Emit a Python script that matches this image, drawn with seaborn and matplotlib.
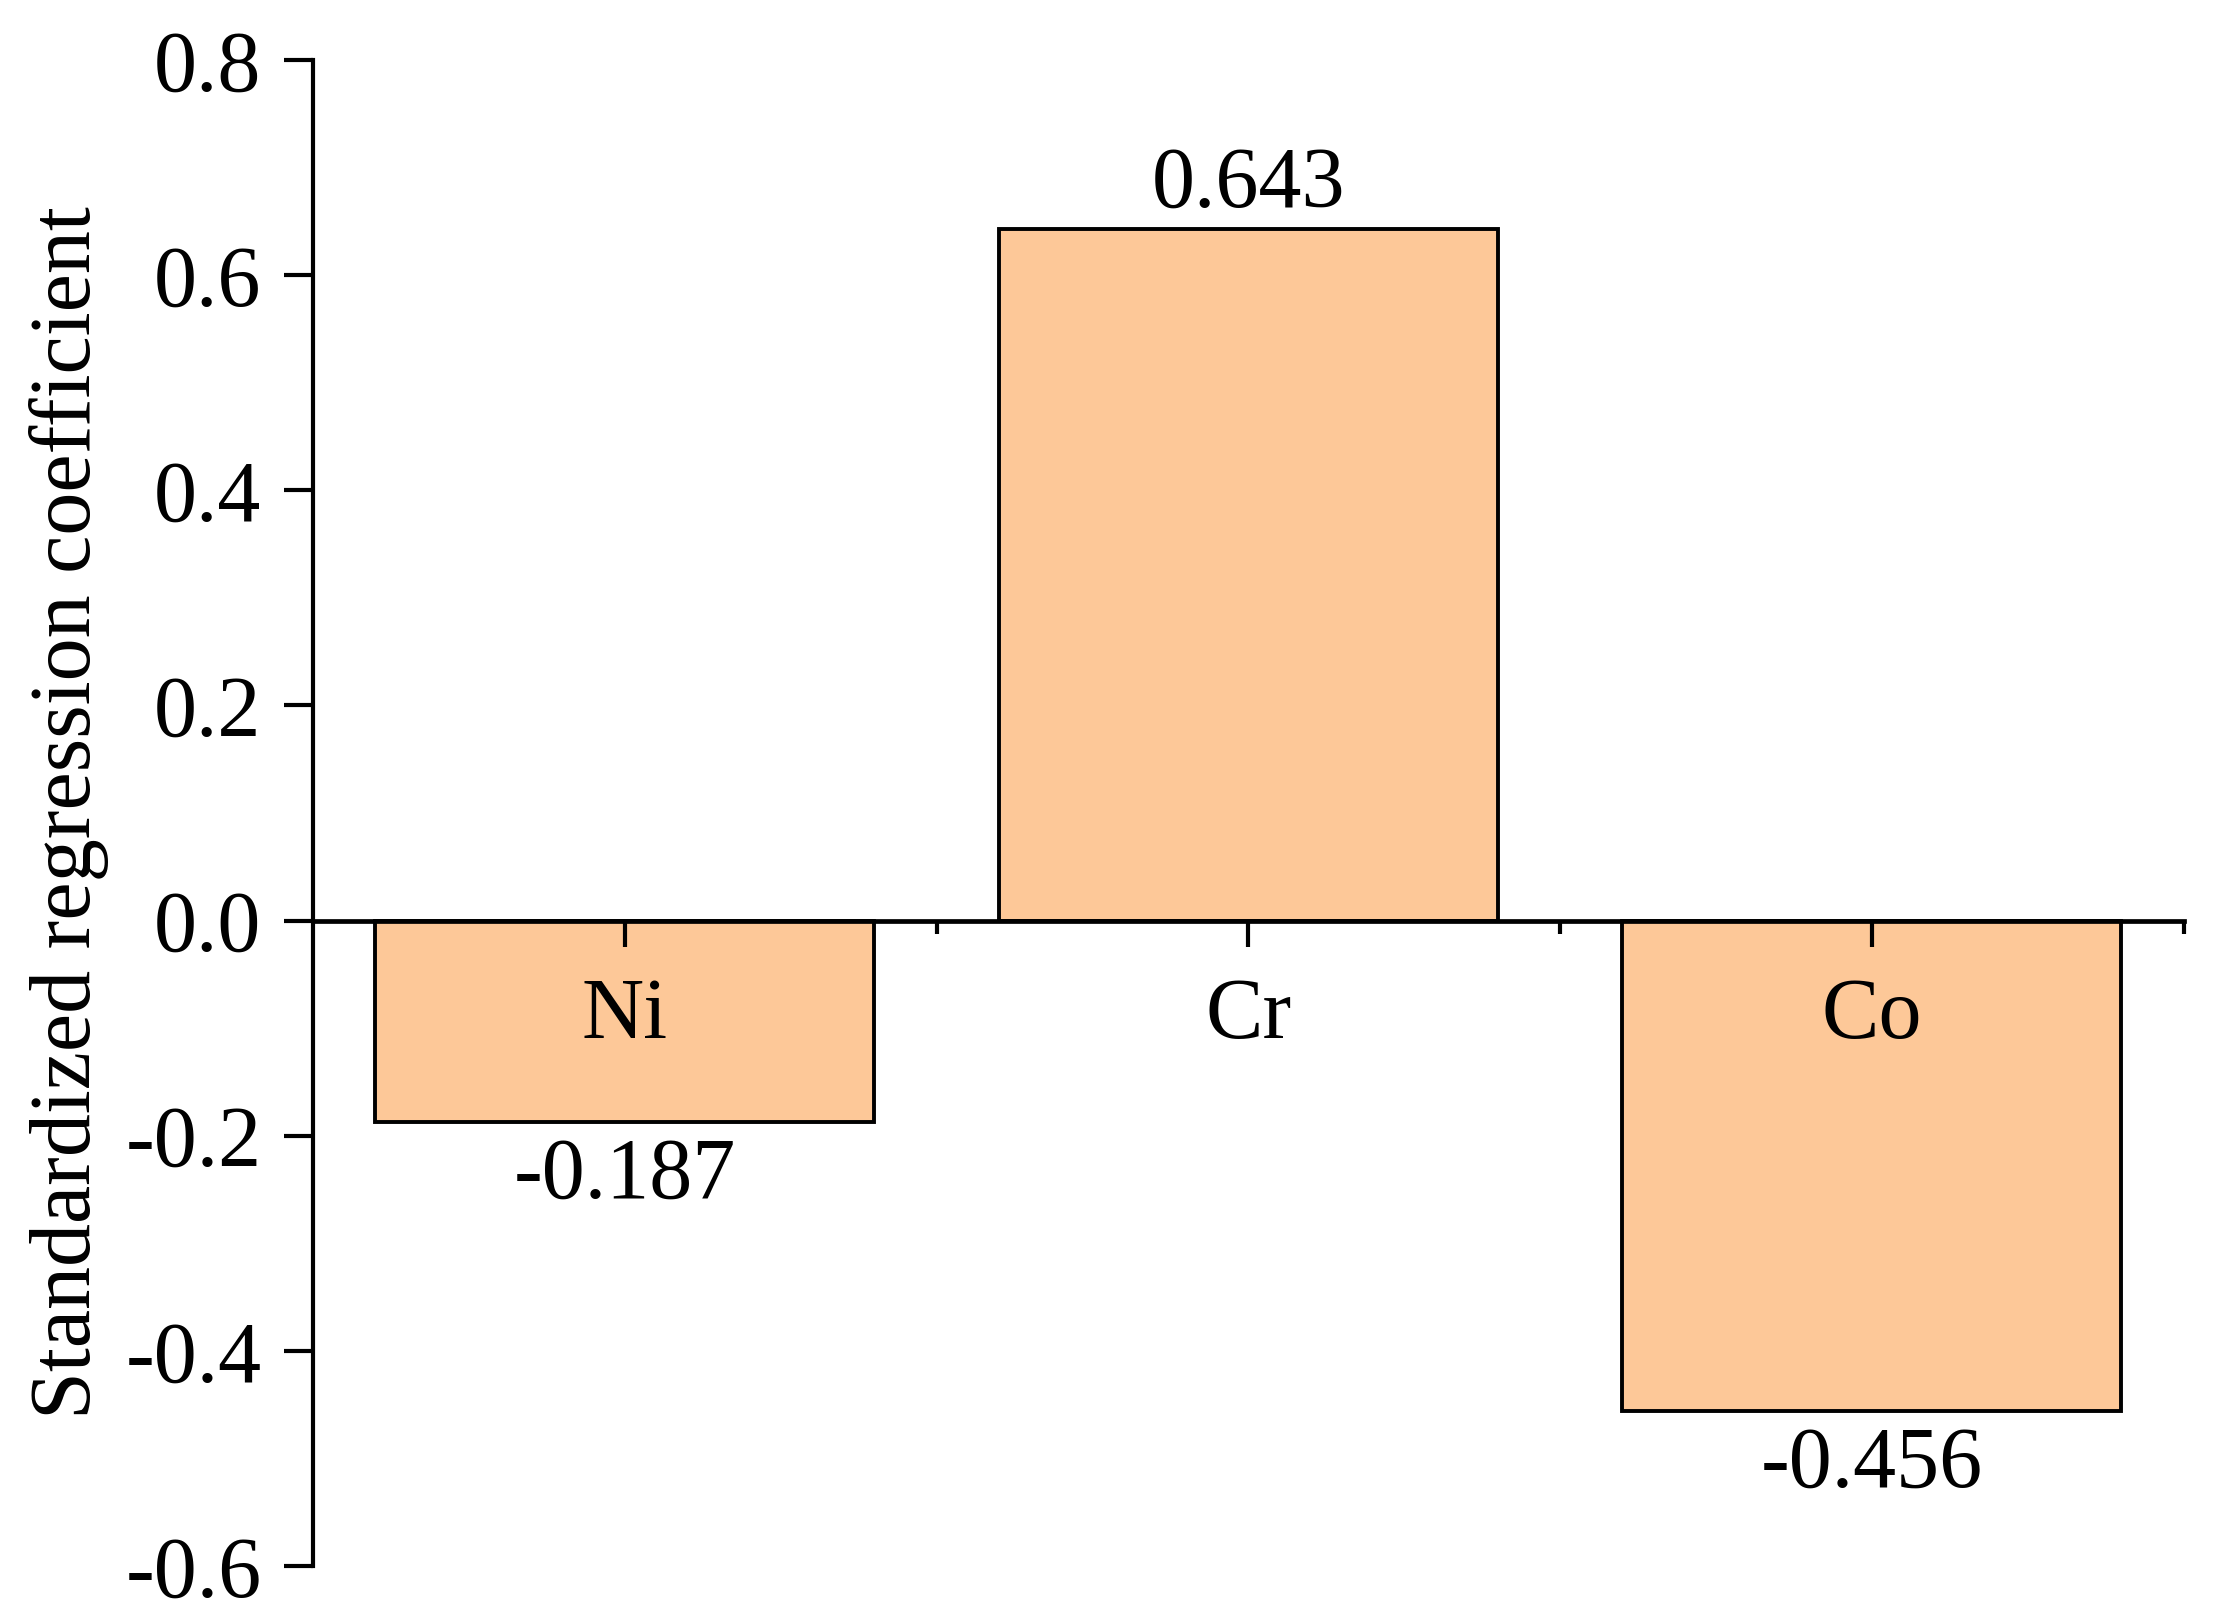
import numpy as np
import matplotlib
matplotlib.use('Agg')
import matplotlib.pyplot as plt
import seaborn as sns
from matplotlib.ticker import FixedLocator

# element names and their standardized regression coefficients
elements = ['Ni', 'Cr', 'Co']
coefficients = [-0.187, 0.643, -0.456]
valueLabels = ['-0.187', '0.643', '-0.456']
yTicks = [-0.6, -0.4, -0.2, 0.0, 0.2, 0.4, 0.6, 0.8]

sns.set_style('ticks')
plt.rcParams['font.family'] = ['Liberation Serif', 'DejaVu Serif']
plt.rcParams['text.color'] = 'black'
plt.rcParams['axes.labelcolor'] = 'black'
plt.rcParams['xtick.color'] = 'black'
plt.rcParams['ytick.color'] = 'black'
plt.rcParams['axes.edgecolor'] = 'black'

fontSize = 62
barColor = '#FDC898'

fig = plt.figure(figsize=(22.26, 16.19), dpi=100)
ax = fig.add_axes([0.1406, 0.0327, 0.8404, 0.9303])

sns.barplot(x=elements, y=coefficients, color=barColor, saturation=1,
			edgecolor='black', linewidth=2.8, width=0.8, ax=ax)

ax.set_axisbelow(False)
ax.set_xlim(-0.5, 2.5)
ax.set_ylim(-0.6, 0.8)
ax.set_yticks(yTicks)
ax.set_yticklabels(['%.1f' % t for t in yTicks])
ax.set_xticks(range(len(elements)))
ax.set_xticklabels(elements)
ax.xaxis.set_minor_locator(FixedLocator([0.5, 1.5, 2.5]))

#spines: left one and the x axis at zero
ax.spines['top'].set_visible(False)
ax.spines['right'].set_visible(False)
ax.spines['bottom'].set_position(('data', 0))
ax.spines['left'].set_linewidth(3.0)
ax.spines['bottom'].set_linewidth(3.4)
ax.spines['left'].set_zorder(5)
ax.spines['bottom'].set_zorder(5)

ax.tick_params(axis='y', which='major', direction='out', length=21, width=3, pad=16,
			   labelsize=fontSize, colors='black')
ax.tick_params(axis='x', which='major', direction='out', length=19, width=3, pad=22,
			   labelsize=fontSize, colors='black')
ax.tick_params(axis='x', which='minor', direction='out', length=9, width=3, colors='black')

#positive bar labels above, negative below with a bit more room
posLabels = [l if c > 0 else '' for l, c in zip(valueLabels, coefficients)]
negLabels = [l if c < 0 else '' for l, c in zip(valueLabels, coefficients)]
ax.bar_label(ax.containers[0], labels=posLabels, fontsize=fontSize, padding=2)
ax.bar_label(ax.containers[0], labels=negLabels, fontsize=fontSize, padding=11)

ax.set_ylabel('Standardized regression coefficient', fontsize=fontSize, labelpad=12)
ax.set_xlabel('')

plt.savefig('out.png', dpi=100)
